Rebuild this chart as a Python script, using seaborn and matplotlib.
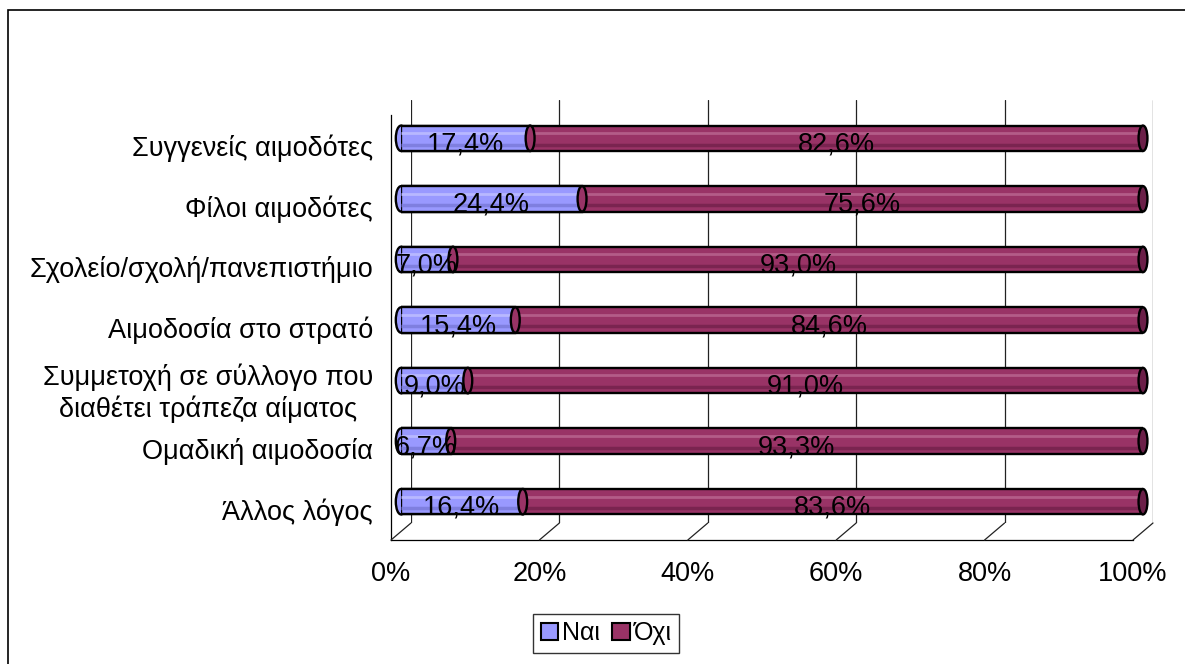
import matplotlib
matplotlib.use("Agg")
import matplotlib.pyplot as plt
import seaborn as sns
import pandas as pd
from matplotlib.patches import Patch, Ellipse, Rectangle
from matplotlib.lines import Line2D

categories = ["Συγγενείς αιμοδότες", "Φίλοι αιμοδότες", "Σχολείο/σχολή/πανεπιστήμιο",
              "Αιμοδοσία στο στρατό", "Συμμετοχή σε σύλλογο που\nδιαθέτει τράπεζα αίματος",
              "Ομαδική αιμοδοσία", "Άλλος λόγος"]
nai = [17.4, 24.4, 7.0, 15.4, 9.0, 6.7, 16.4]
oxi = [82.6, 75.6, 93.0, 84.6, 91.0, 93.3, 83.6]
x_ticks = [0, 20, 40, 60, 80, 100]
x_ticklabels = ["0%", "20%", "40%", "60%", "80%", "100%"]

c_nai = "#9999FF"
c_oxi = "#993366"
fs = 19.5

sns.set_style("white")
plt.rcParams['font.family'] = ['Liberation Sans', 'DejaVu Sans']
plt.rcParams['text.color'] = 'black'
plt.rcParams['xtick.color'] = 'black'
plt.rcParams['ytick.color'] = 'black'
plt.rcParams['axes.edgecolor'] = 'black'

W, H = 1185, 664
fig = plt.figure(figsize=(W / 100, H / 100), dpi=100)

def px_axes(x0, x1, ytop, ybot, **kw):
    return fig.add_axes([x0 / W, 1 - ybot / H, (x1 - x0) / W, (ybot - ytop) / H], **kw)

# back wall (gridlines), front frame (axis, labels), bars in between
ax_back = px_axes(411, 1153, 100, 523)
ax_front = px_axes(391, 1133, 115, 540)
ax = px_axes(401, 1143, 108, 532)

for a in (ax_back, ax_front, ax):
    a.set_xlim(0, 100)
    a.set_ylim(len(categories) - 0.5, -0.5)
    a.patch.set_alpha(0)

ax_back.set_axis_off()
for v in x_ticks:
    ax_back.axvline(v, color="#222222", lw=0.9, zorder=0)

# front frame
for s in ("top", "right"):
    ax_front.spines[s].set_visible(False)
ax_front.spines["left"].set_linewidth(0.9)
ax_front.spines["bottom"].set_linewidth(0.9)
ax_front.set_xticks(x_ticks)
ax_front.set_xticklabels(x_ticklabels, fontsize=fs)
ax_front.tick_params(axis="x", direction="out", length=7, width=0.9, pad=8)
ax_front.set_yticks(range(len(categories)))
ax_front.set_yticklabels(categories, fontsize=fs)
ax_front.set_yticks([i - 0.5 for i in range(len(categories) + 1)], minor=True)
ax_front.tick_params(axis="y", which="major", length=0, pad=13)
ax_front.tick_params(axis="y", which="minor", direction="out", length=7, width=0.9)
for lab in ax_front.get_yticklabels():
    lab.set_multialignment("center")

# floor diagonals joining front ticks to back gridlines
for v in x_ticks:
    p0 = ax_front.transData.transform((v, len(categories) - 0.5))
    p1 = ax_back.transData.transform((v, len(categories) - 0.5))
    f0 = fig.transFigure.inverted().transform(p0)
    f1 = fig.transFigure.inverted().transform(p1)
    fig.add_artist(Line2D([f0[0], f1[0]], [f0[1], f1[1]], color="#222222", lw=0.9))

# bars
df = pd.DataFrame({"cat": categories, "nai": nai, "oxi": oxi})
df["total"] = df["nai"] + df["oxi"]
bh = 0.42
sns.barplot(data=df, y="cat", x="total", color=c_oxi, orient="h", width=bh,
            edgecolor="black", linewidth=1.7, saturation=1, ax=ax)
sns.barplot(data=df, y="cat", x="nai", color=c_nai, orient="h", width=bh,
            edgecolor="black", linewidth=1.7, saturation=1, ax=ax)
ax.set_axis_off()
ax.set_xlim(0, 100)
ax.set_ylim(len(categories) - 0.5, -0.5)

# cylinder shading: stripes and elliptical ends
for i, (a, b) in enumerate(zip(nai, oxi)):
    ax.add_patch(Ellipse((0, i), 1.4, bh, facecolor=c_nai, edgecolor="black", lw=1.7,
                         zorder=0.9, clip_on=False))
    ax.plot([0, a], [i - bh * 0.2] * 2, color="#B8B8FF", lw=2, zorder=3,
            solid_capstyle="butt")
    ax.plot([0, a], [i + bh * 0.25] * 2, color="#7F7FE0", lw=2.5, zorder=3,
            solid_capstyle="butt")
    ax.plot([a, a + b], [i - bh * 0.2] * 2, color="#B35C88", lw=2, zorder=3,
            solid_capstyle="butt")
    ax.plot([a, a + b], [i + bh * 0.25] * 2, color="#7A2450", lw=2.5, zorder=3,
            solid_capstyle="butt")
    ax.add_patch(Ellipse((a, i), 1.2, bh, facecolor=c_oxi, edgecolor="black", lw=1.7,
                         zorder=4, clip_on=False))
    ax.add_patch(Ellipse((a + b, i), 1.2, bh, facecolor="#6B1F48", edgecolor="black", lw=1.7,
                         zorder=4, clip_on=False))

def fmt(v):
    return f"{v:.1f}%".replace(".", ",")

for i, (a, b) in enumerate(zip(nai, oxi)):
    ax.text(a / 2, i + 0.1, fmt(a), ha="center", va="center", fontsize=fs, zorder=5)
    ax.text(a + b / 2, i + 0.1, fmt(b), ha="center", va="center", fontsize=fs, zorder=5)

# legend
handles = [Patch(facecolor=c_nai, edgecolor="black", lw=1.5, label="Ναι"),
           Patch(facecolor=c_oxi, edgecolor="black", lw=1.5, label="Όχι")]
fig.legend(handles=handles, loc="center", bbox_to_anchor=(606 / W, 1 - 633 / H), ncol=2,
           fontsize=18, frameon=True, fancybox=False, edgecolor="black",
           handlelength=0.7, handleheight=0.7, handletextpad=0.15, columnspacing=0.5,
           borderpad=0.3)

# outer chart border
fig.add_artist(Rectangle((8 / W, -0.05), 1.1, 1 - 10 / H + 0.05, transform=fig.transFigure,
                         fill=False, edgecolor="black", lw=1.2))

fig.savefig("out.png", dpi=100)
